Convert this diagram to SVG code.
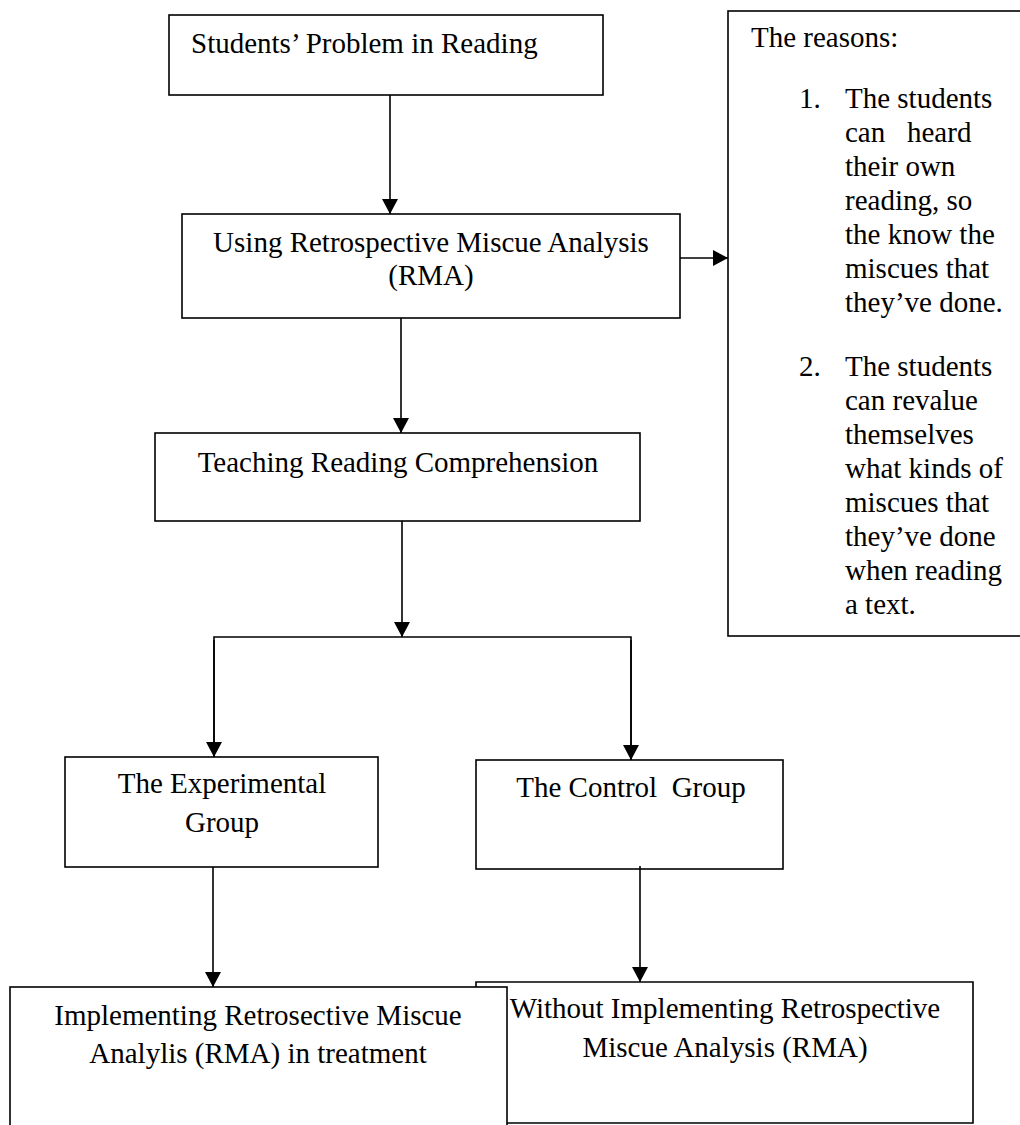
<svg xmlns="http://www.w3.org/2000/svg" width="1020" height="1125" viewBox="0 0 1020 1125">
<style>
  .box { fill: #fff; stroke: #000; stroke-width: 1.6; }
  .frame { fill: none; stroke: #000; stroke-width: 1.6; }
  .t { font-family: "Liberation Serif", "Times New Roman", serif; font-size: 29px; fill: #000; }
  .c { text-anchor: middle; }
  .ln { fill: none; stroke: #000; stroke-width: 1.6; }
</style>
<defs>
  <marker id="ah" markerUnits="userSpaceOnUse" markerWidth="16" markerHeight="16" viewBox="0 0 16 16" refX="15" refY="8" orient="auto">
    <path d="M0,0 L15,8 L0,16 Z" fill="#000"/>
  </marker>
</defs>
<rect width="1020" height="1125" fill="#fff"/>

<g id="n-problem">
  <rect class="box" x="169" y="15" width="434" height="80"/>
  <text class="t" x="191" y="53">Students’ Problem in Reading</text>
</g>

<g id="n-rma">
  <rect class="box" x="182" y="214" width="498" height="104"/>
  <text class="t c" x="431" y="252">Using Retrospective Miscue Analysis</text>
  <text class="t c" x="431" y="285">(RMA)</text>
</g>

<g id="n-reasons">
  <rect class="box" x="728" y="11" width="300" height="625"/>
  <text class="t" x="751" y="47">The reasons:</text>
  <text class="t" x="799" y="108">1.</text>
  <text class="t" x="845" y="108">The students</text>
  <text class="t" x="845" y="142" xml:space="preserve">can   heard</text>
  <text class="t" x="845" y="176">their own</text>
  <text class="t" x="845" y="210">reading, so</text>
  <text class="t" x="845" y="244">the know the</text>
  <text class="t" x="845" y="278">miscues that</text>
  <text class="t" x="845" y="312">they’ve done.</text>
  <text class="t" x="799" y="376">2.</text>
  <text class="t" x="845" y="376">The students</text>
  <text class="t" x="845" y="410">can revalue</text>
  <text class="t" x="845" y="444">themselves</text>
  <text class="t" x="845" y="478">what kinds of</text>
  <text class="t" x="845" y="512">miscues that</text>
  <text class="t" x="845" y="546">they’ve done</text>
  <text class="t" x="845" y="580">when reading</text>
  <text class="t" x="845" y="614">a text.</text>
</g>

<g id="n-teaching">
  <rect class="box" x="155" y="433" width="485" height="88"/>
  <text class="t c" x="398" y="472">Teaching Reading Comprehension</text>
</g>

<g id="n-experimental">
  <rect class="box" x="65" y="757" width="313" height="110"/>
  <text class="t c" x="222" y="793">The Experimental</text>
  <text class="t c" x="222" y="832">Group</text>
</g>

<g id="n-control">
  <rect class="box" x="476" y="760" width="307" height="109"/>
  <text class="t c" x="631" y="797" xml:space="preserve">The Control  Group</text>
</g>

<g id="n-implementing">
  <rect class="box" x="10" y="987" width="497" height="142"/>
  <text class="t c" x="258" y="1025">Implementing Retrosective Miscue</text>
  <text class="t c" x="258" y="1063">Analylis (RMA) in treatment</text>
</g>

<g id="n-without">
  <path class="frame" d="M507,1123 H973 V982 H476 V987"/>
  <text class="t c" x="725" y="1018">Without Implementing Retrospective</text>
  <text class="t c" x="725" y="1057">Miscue Analysis (RMA)</text>
</g>

<g id="connectors">
  <line class="ln" x1="390" y1="95" x2="390" y2="214" marker-end="url(#ah)"/>
  <line class="ln" x1="680" y1="258" x2="728" y2="258" marker-end="url(#ah)"/>
  <line class="ln" x1="401" y1="318" x2="401" y2="433" marker-end="url(#ah)"/>
  <line class="ln" x1="402" y1="521" x2="402" y2="637" marker-end="url(#ah)"/>
  <polyline class="ln" points="214,757 214,637 631,637 631,760"/>
  <line class="ln" x1="214" y1="640" x2="214" y2="757" marker-end="url(#ah)"/>
  <line class="ln" x1="631" y1="640" x2="631" y2="760" marker-end="url(#ah)"/>
  <line class="ln" x1="213" y1="867" x2="213" y2="987" marker-end="url(#ah)"/>
  <line class="ln" x1="640" y1="866" x2="640" y2="982" marker-end="url(#ah)"/>
</g>
</svg>
